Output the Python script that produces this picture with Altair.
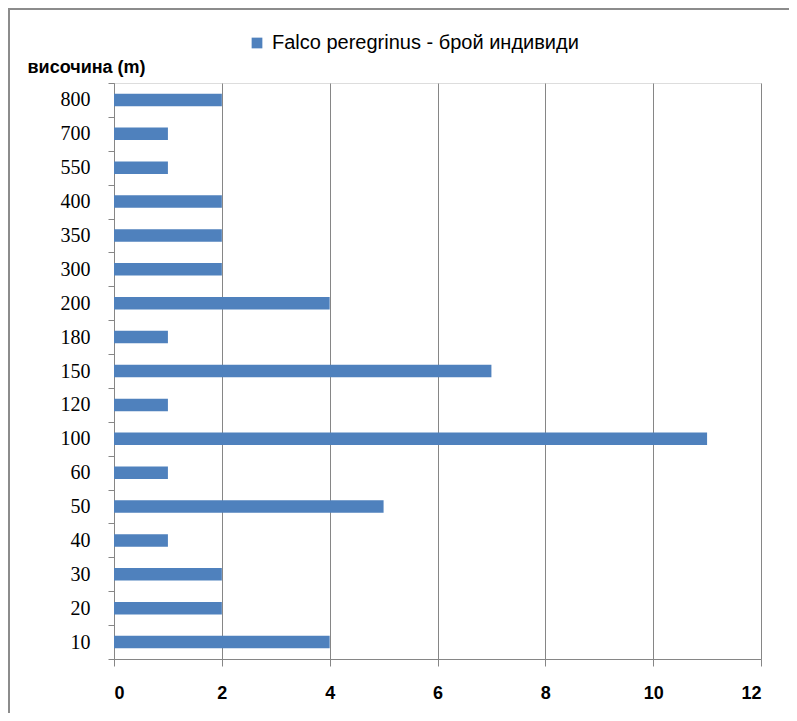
import altair as alt
import pandas as pd

heights = ["10", "20", "30", "40", "50", "60", "100", "120", "150", "180",
           "200", "300", "350", "400", "550", "700", "800"]
counts = [4, 2, 2, 1, 5, 1, 11, 1, 7, 1, 4, 2, 2, 2, 1, 1, 2]
series_name = "Falco peregrinus - брой индивиди"
x_ticks = [0, 2, 4, 6, 8, 10, 12]

df = pd.DataFrame({"h": heights, "n": counts, "s": [series_name] * len(heights)})

W, H = 647, 576
GRAY = "#868686"

bars = alt.Chart(df).mark_bar(size=12.5, color="#4F81BD").encode(
    x=alt.X("n:Q",
            scale=alt.Scale(domain=[0, 12], nice=False),
            axis=alt.Axis(values=x_ticks, title=None, grid=True, gridColor=GRAY,
                          gridWidth=1, domainColor=GRAY, tickColor=GRAY, tickSize=7,
                          labelFont="Liberation Sans", labelFontSize=18,
                          labelFontWeight="bold", labelColor="#000000",
                          labelPadding=18)),
    y=alt.Y("h:N",
            sort=list(reversed(heights)),
            scale=alt.Scale(paddingInner=0, paddingOuter=0),
            axis=alt.Axis(title="височина (m)", titleAngle=0, titleAlign="left",
                          titleBaseline="middle", titleX=-87, titleY=-16,
                          titleFont="Liberation Sans", titleFontSize=18,
                          titleFontWeight="bold", titleColor="#000000",
                          tickBand="extent", grid=False, domainColor=GRAY,
                          tickColor=GRAY, tickSize=6, labelFont="Liberation Serif",
                          labelFontSize=20, labelColor="#000000", labelPadding=18)),
    fill=alt.Fill("s:N", scale=alt.Scale(range=["#4F81BD"]),
                  legend=alt.Legend(title=None, orient="none", legendX=133,
                                    legendY=-50, symbolType="square", symbolSize=115,
                                    symbolStrokeWidth=0, labelFont="Liberation Sans",
                                    labelFontSize=20, labelColor="#000000",
                                    labelLimit=0, labelOffset=5)),
)

border = alt.Chart(alt.Data(values=[{}]))
top_line = border.mark_rule(color="#8c8c8c", strokeWidth=2).encode(
    x=alt.value(-105), x2=alt.value(W + 40), y=alt.value(-74))
left_line = border.mark_rule(color="#8c8c8c", strokeWidth=2).encode(
    x=alt.value(-105), y=alt.value(-75), y2=alt.value(H + 60))

chart = alt.layer(bars, top_line, left_line).properties(
    width=W, height=H,
    autosize=alt.AutoSizeParams(type="none"),
    padding={"left": 106, "top": 75, "right": 28, "bottom": 54},
).configure_view(stroke=None).configure(background="#ffffff")

chart.save("out.html", embed_options={"renderer": "svg", "actions": False})
